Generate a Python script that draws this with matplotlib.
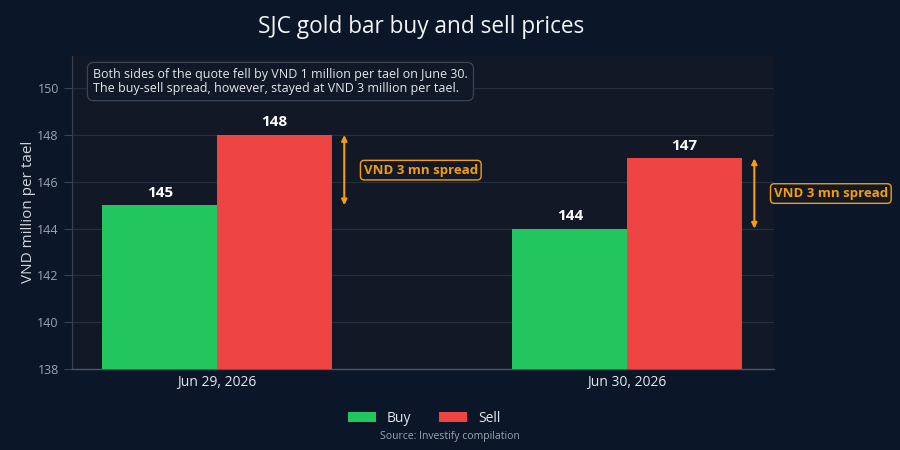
import matplotlib
matplotlib.use("Agg")
import matplotlib.pyplot as plt
import numpy as np

plt.rcParams['font.family'] = ['Open Sans', 'DejaVu Sans']

categories = ["Jun 29, 2026", "Jun 30, 2026"]
buy = [145, 144]
sell = [148, 147]
spread_label = "VND 3 mn spread"
note = ("Both sides of the quote fell by VND 1 million per tael on June 30.\n"
        "The buy-sell spread, however, stayed at VND 3 million per tael.")

paper = "#0b1628"
plotbg = "#131826"
green = "#22c55e"
red = "#ef4444"
amber = "#f59e0b"

fig = plt.figure(figsize=(9, 4.5), dpi=100, facecolor=paper)
ax = fig.add_axes([72/900, 1-369/450, (774-72)/900, (369-55.5)/450])
ax.set_facecolor(plotbg)

x = np.arange(len(categories))
w = 0.28
bb = ax.bar(x - w/2, [b - 138 for b in buy], w, bottom=138, color=green, label="Buy", zorder=3)
bs = ax.bar(x + w/2, [s - 138 for s in sell], w, bottom=138, color=red, label="Sell", zorder=3)

for i in range(len(categories)):
    ax.annotate(f"{buy[i]}", (x[i] - w/2, buy[i]), xytext=(0, 4), textcoords="offset points",
                ha="center", va="bottom", color="white", fontsize=11, fontweight="bold")
    ax.annotate(f"{sell[i]}", (x[i] + w/2, sell[i]), xytext=(0, 4), textcoords="offset points",
                ha="center", va="bottom", color="white", fontsize=11, fontweight="bold")
    xa = x[i] + 0.31
    ax.annotate("", xy=(xa, sell[i]), xytext=(xa, buy[i]),
                arrowprops=dict(arrowstyle="<|-|>", color=amber, lw=1.5,
                                mutation_scale=8, shrinkA=0, shrinkB=0), zorder=4)
    ax.annotate(spread_label, (xa, (buy[i] + sell[i]) / 2), xytext=(14, 0),
                textcoords="offset points", ha="left", va="center",
                color=amber, fontsize=9.5, fontweight="bold",
                bbox=dict(boxstyle="round,pad=0.25,rounding_size=0.3", fc=plotbg, ec=amber, lw=1),
                zorder=5)

ax.set_xlim(-0.354, 1.358)
ax.set_ylim(138, 151.4)
ax.set_yticks([138, 140, 142, 144, 146, 148, 150])
ax.set_xticks(x)
ax.set_xticklabels(categories)
ax.grid(axis="y", color="#263041", lw=0.8, zorder=0)
ax.tick_params(axis="y", colors="#8b95a5", labelsize=9, length=6, width=0.8)
ax.tick_params(axis="x", colors="#e5e7eb", labelsize=10, length=0, pad=4)
for t in ax.get_yticklabels():
    t.set_color("#9ca3af")
ax.tick_params(axis="y", color="#374151")
for s in ["top", "right"]:
    ax.spines[s].set_visible(False)
ax.spines["left"].set_color("#374151")
ax.spines["bottom"].set_color("#4b5563")
ax.spines["bottom"].set_linewidth(1.0)
ax.set_ylabel("VND million per tael", color="#d1d5db", fontsize=11, labelpad=1)

ax.text(0.03, 0.96, note, transform=ax.transAxes, ha="left", va="top",
        color="#e5e7eb", fontsize=9, linespacing=1.1,
        bbox=dict(boxstyle="round,pad=0.45,rounding_size=0.5", fc="#111827", ec="#3a4556", lw=0.9),
        zorder=6)

fig.text(0.468, 0.94, "SJC gold bar buy and sell prices", ha="center", va="center",
         color="#f3f4f6", fontsize=16.25)

leg = fig.legend(handles=[bb, bs], labels=["Buy", "Sell"], loc="center",
                 bbox_to_anchor=(0.4715, 1 - 418/450), ncol=2, frameon=False,
                 fontsize=10, handlelength=2.0, handleheight=0.7, columnspacing=2.0)
for t in leg.get_texts():
    t.set_color("#e5e7eb")

fig.text(0.5, 1 - 437/450, "Source: Investify compilation", ha="center", va="center",
         color="#9ca3af", fontsize=7.5)

fig.savefig("out.png", dpi=100, facecolor=paper)
